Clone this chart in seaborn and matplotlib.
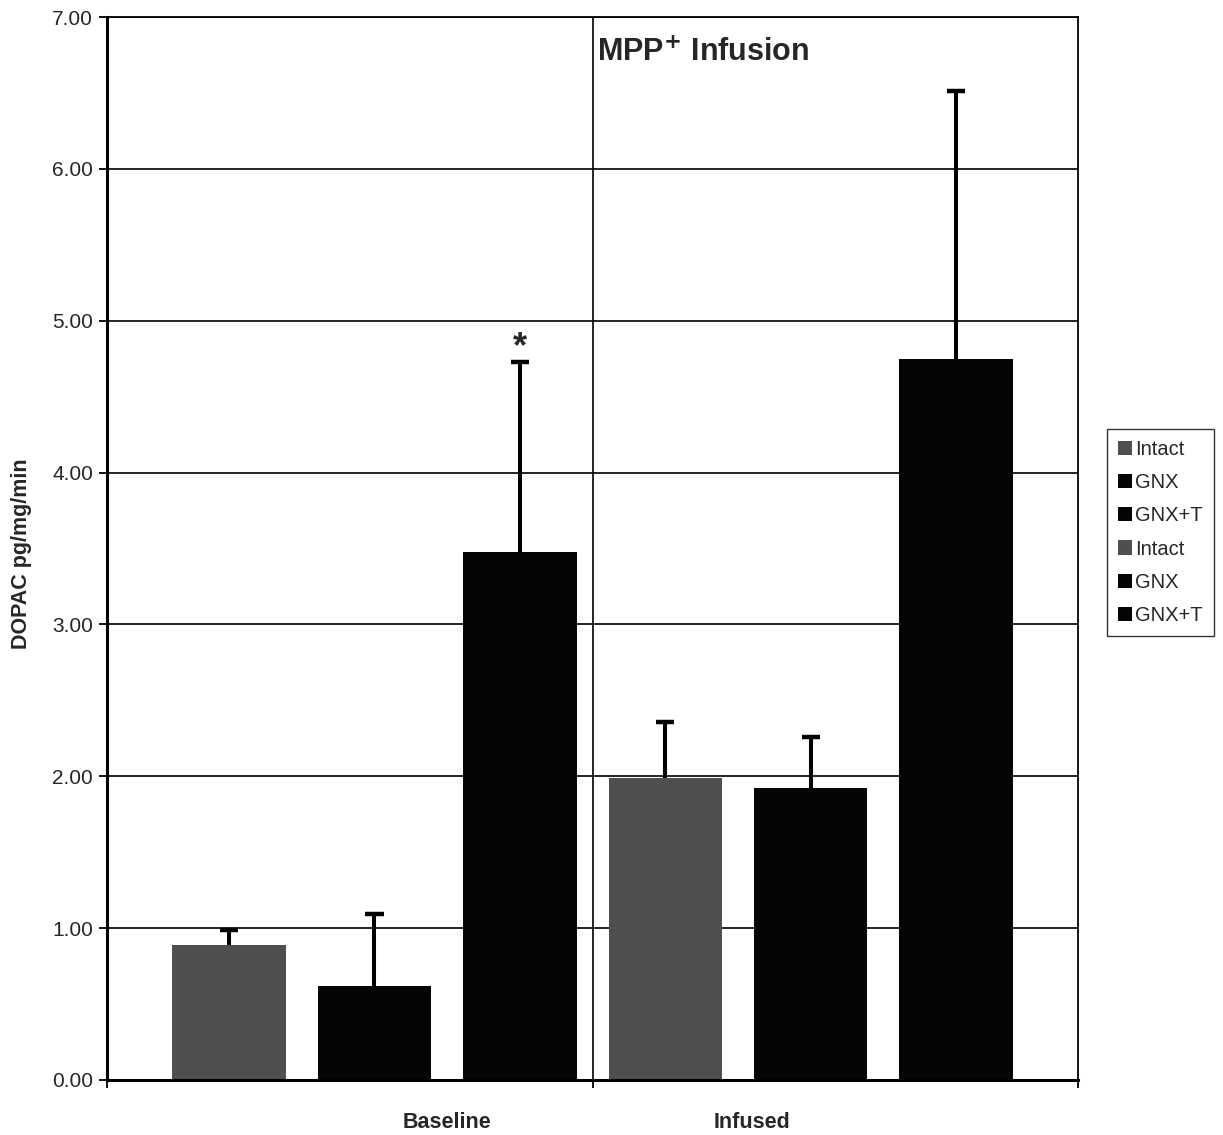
import matplotlib
matplotlib.use("Agg")
import matplotlib.pyplot as plt
from matplotlib.patches import Patch
import seaborn as sns
import pandas as pd

# DOPAC release per group, before and during MPP+ infusion
bar_ids = ["B-Intact", "B-GNX", "B-GNX+T", "I-Intact", "I-GNX", "I-GNX+T"]
groups = ["Intact", "GNX", "GNX+T", "Intact", "GNX", "GNX+T"]
means = [0.89, 0.62, 3.48, 1.99, 1.92, 4.75]
errors = [0.10, 0.47, 1.25, 0.37, 0.34, 1.76]
phases = ["Baseline", "Infused"]
group_colors = {"Intact": "#4f4f4f", "GNX": "#050505", "GNX+T": "#050505"}
y_ticks = [0, 1, 2, 3, 4, 5, 6, 7]

sns.set_theme(style="white")
plt.rcParams["font.family"] = ["Liberation Sans", "DejaVu Sans"]

df = pd.DataFrame({"bar": bar_ids, "group": groups, "value": means})
palette = {b: group_colors[g] for b, g in zip(bar_ids, groups)}

fig = plt.figure(figsize=(12.23, 11.35), dpi=100)
ax = fig.add_axes([0.0875, 0.0485, 0.794, 0.9365])

sns.barplot(data=df, x="bar", y="value", hue="bar", palette=palette,
            order=bar_ids, width=0.78, legend=False, ax=ax,
            saturation=1, linewidth=0, errorbar=None)

# upward-only error bars: stem from the bar top plus a single top cap
cap_half = 0.062
for i, (m, e) in enumerate(zip(means, errors)):
    ax.vlines(i, m, m + e, colors="black", linewidth=2.9, zorder=4)
    ax.hlines(m + e, i - cap_half, i + cap_half, colors="black",
              linewidth=3.2, zorder=4)

ax.set_xlim(-0.84, 5.84)
ax.set_ylim(0, 7)
ax.set_yticks(y_ticks)
ax.set_yticklabels([f"{v:.2f}" for v in y_ticks], fontsize=15)
ax.yaxis.grid(True, color="black", linewidth=1.2)
ax.set_axisbelow(True)
ax.axvline(2.5, color="black", linewidth=1.2, zorder=1)

ax.set_xticks([-0.84, 2.5, 5.84])
ax.set_xticklabels([])
ax.tick_params(axis="x", direction="out", length=6, width=1.3, color="black", bottom=True)
ax.tick_params(axis="y", direction="out", length=6, width=1.3, color="black", left=True, pad=4)
for s in ax.spines.values():
    s.set_color("black")
    s.set_linewidth(1.3)
ax.spines["left"].set_linewidth(2.2)
ax.spines["bottom"].set_linewidth(2.2)

ax.set_xlabel("")
ax.set_ylabel("DOPAC pg/mg/min", fontsize=15.5, fontweight="bold")
ax.yaxis.set_label_coords(-0.077, 0.495)

# category labels below the axis
for xpos, name in zip([1.5, 3.6], phases):
    ax.text(xpos, -0.28, name, ha="center", va="center",
            fontsize=15.5, fontweight="bold")

ax.text(2.53, 6.76, r"MPP$^{\mathbf{+}}$ Infusion", ha="left", va="center",
        fontsize=22, fontweight="bold")
ax.text(2, 4.82, "*", ha="center", va="center", fontsize=26, fontweight="bold")

handles = [Patch(facecolor=group_colors[g], edgecolor="none", label=g) for g in groups]
leg = ax.legend(handles=handles, loc="center left", bbox_to_anchor=(1.03, 0.515),
                fontsize=14.5, frameon=True, fancybox=False, edgecolor="black",
                handlelength=0.7, handleheight=0.7, handletextpad=0.15,
                labelspacing=0.7, borderpad=0.55, borderaxespad=0)
leg.get_frame().set_linewidth(1.0)

fig.savefig("out.png", dpi=100, facecolor="white")
